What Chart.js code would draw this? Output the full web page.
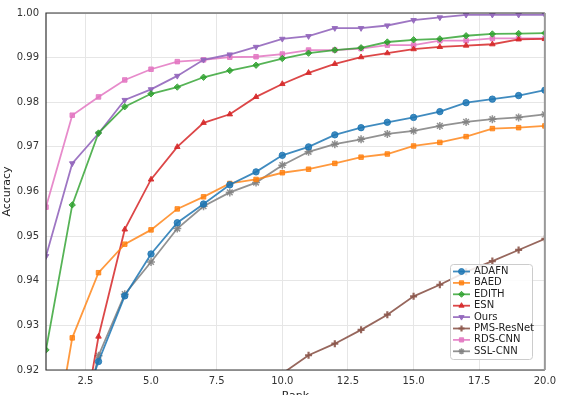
<!DOCTYPE html>
<html>
<head>
<meta charset="utf-8">
<script src="https://cdn.jsdelivr.net/npm/chart.js@4/dist/chart.umd.min.js"></script>
<style>
  html, body { margin: 0; padding: 0; overflow: hidden; background: #fff; }
</style>
</head>
<body>
<canvas id="grafico" width="561" height="410"></canvas>
<script>
// dados
const ranks = [1, 2, 3, 4, 5, 6, 7, 8, 9, 10, 11, 12, 13, 14, 15, 16, 17, 18, 19, 20];
const xTicks = [2.5, 5, 7.5, 10, 12.5, 15, 17.5, 20];

const adafn = [0.875, 0.905, 0.9219, 0.9366, 0.9460, 0.9530, 0.9572, 0.9615, 0.9644, 0.9681, 0.9700, 0.9727, 0.9743, 0.9755, 0.9766, 0.9779, 0.9799, 0.9807, 0.9815, 0.9827];
const baed = [0.893, 0.9272, 0.9418, 0.9482, 0.9514, 0.9561, 0.9588, 0.9618, 0.9627, 0.9642, 0.9650, 0.9663, 0.9677, 0.9684, 0.9702, 0.9710, 0.9723, 0.9741, 0.9743, 0.9747];
const edith = [0.9245, 0.9570, 0.9731, 0.9790, 0.9819, 0.9834, 0.9856, 0.9871, 0.9883, 0.9898, 0.9910, 0.9917, 0.9922, 0.9935, 0.9940, 0.9942, 0.9949, 0.9953, 0.9954, 0.9955];
const esn = [0.870, 0.894, 0.9275, 0.9515, 0.9627, 0.9700, 0.9754, 0.9773, 0.9812, 0.9841, 0.9866, 0.9886, 0.9901, 0.9910, 0.9919, 0.9924, 0.9927, 0.9930, 0.9941, 0.9942];
const ours = [0.9455, 0.9663, 0.9730, 0.9805, 0.9829, 0.9859, 0.9895, 0.9907, 0.9924, 0.9942, 0.9948, 0.9966, 0.9966, 0.9972, 0.9984, 0.9990, 0.9996, 0.9996, 0.9996, 0.9996];
const pmsResnet = [0.880, 0.885, 0.890, 0.895, 0.900, 0.905, 0.909, 0.912, 0.9155, 0.9192, 0.9233, 0.9259, 0.9290, 0.9324, 0.9365, 0.9391, 0.9420, 0.9444, 0.9469, 0.9494];
const rdsCnn = [0.9565, 0.9771, 0.9812, 0.9850, 0.9874, 0.9891, 0.9895, 0.9901, 0.9902, 0.9908, 0.9917, 0.9917, 0.9920, 0.9928, 0.9928, 0.9938, 0.9938, 0.9943, 0.9943, 0.9943];
const sslCnn = [0.880, 0.898, 0.9232, 0.9370, 0.9442, 0.9517, 0.9567, 0.9598, 0.9620, 0.9659, 0.9689, 0.9706, 0.9717, 0.9729, 0.9736, 0.9747, 0.9756, 0.9762, 0.9766, 0.9773];

const SERIES = [
    { label: "ADAFN", data: adafn, cor: "rgba(31,119,180,0.85)", estilo: "circle", rot: 0 },
    { label: "BAED", data: baed, cor: "rgba(255,127,14,0.8)", estilo: "rect", rot: 0 },
    { label: "EDITH", data: edith, cor: "rgba(44,160,44,0.8)", estilo: "rectRot", rot: 0 },
    { label: "ESN", data: esn, cor: "rgba(214,39,40,0.85)", estilo: "triangle", rot: 0 },
    { label: "Ours", data: ours, cor: "rgba(148,103,189,0.9)", estilo: "triangle", rot: 180 },
    { label: "PMS-ResNet", data: pmsResnet, cor: "rgba(140,86,75,0.9)", estilo: "cross", rot: 0 },
    { label: "RDS-CNN", data: rdsCnn, cor: "rgba(227,119,194,0.85)", estilo: "rect", rot: 0 },
    { label: "SSL-CNN", data: sslCnn, cor: "rgba(127,127,127,0.85)", estilo: "star", rot: 0 },
];

const moldura = {
    id: "moldura",
    afterDatasetsDraw(chart) {
        const a = chart.chartArea, ctx = chart.ctx;
        ctx.save();
        ctx.strokeStyle = "#333";
        ctx.lineWidth = 1.2;
        ctx.beginPath();
        ctx.moveTo(a.right, a.top); ctx.lineTo(a.left, a.top);
        ctx.lineTo(a.left, a.bottom); ctx.lineTo(a.right, a.bottom);
        ctx.stroke();
        ctx.strokeStyle = "#999";
        ctx.lineWidth = 2;
        ctx.beginPath();
        ctx.moveTo(a.right, a.top); ctx.lineTo(a.right, a.bottom);
        ctx.stroke();
        ctx.restore();
    }
};

const legenda = {
    id: "legenda",
    afterDraw(chart) {
        const ctx = chart.ctx;
        const x0 = 450, y0 = 264, w = 82, h = 95;
        ctx.save();
        ctx.fillStyle = "rgba(255,255,255,0.85)";
        ctx.strokeStyle = "#cccccc";
        ctx.lineWidth = 1;
        ctx.beginPath();
        ctx.roundRect(x0 + 0.5, y0 + 0.5, w, h, 3);
        ctx.fill();
        ctx.stroke();
        ctx.font = "10px 'DejaVu Sans'";
        ctx.textBaseline = "middle";
        chart.data.datasets.forEach((ds, i) => {
            const y = y0 + 7.5 + i * 11.4;
            ctx.strokeStyle = ds.borderColor;
            ctx.fillStyle = ds.borderColor;
            ctx.lineWidth = 1.8;
            ctx.beginPath();
            ctx.moveTo(x0 + 3, y); ctx.lineTo(x0 + 20, y);
            ctx.stroke();
            if (Chart.helpers && Chart.helpers.drawPoint) {
                ctx.lineWidth = ds.pointBorderWidth;
                Chart.helpers.drawPoint(ctx, { pointStyle: ds.pointStyle, radius: 3, rotation: ds.pointRotation, borderWidth: ds.pointBorderWidth }, x0 + 11.5, y);
            }
            ctx.fillStyle = "#222";
            ctx.fillText(ds.label, x0 + 24, y);
        });
        ctx.restore();
    }
};

const grafico = new Chart(document.getElementById("grafico"), {
    type: "line",
    data: {
        labels: ranks,
        datasets: SERIES.map((s) => ({
            label: s.label,
            data: s.data.map((v, i) => ({ x: ranks[i], y: v })),
            borderColor: s.cor,
            backgroundColor: s.cor,
            borderWidth: 1.8,
            pointStyle: s.estilo,
            pointRotation: s.rot,
            pointRadius: s.estilo === "star" ? 4 : (s.estilo === "cross" ? 3.5 : 3.2),
            pointBorderWidth: s.estilo === "cross" ? 2.2 : (s.estilo === "star" ? 1.5 : 1),
            tension: 0,
        }))
    },
    options: {
        responsive: false,
        devicePixelRatio: 1,
        animation: false,
        layout: { padding: { top: 13, right: 16, left: 0, bottom: 0 } },
        plugins: { legend: { display: false }, tooltip: { enabled: false } },
        scales: {
            x: {
                type: "linear",
                min: 1,
                max: 20,
                afterBuildTicks: (s) => { s.ticks = xTicks.map((v) => ({ value: v })); },
                afterFit: (s) => { s.height = 40; },
                ticks: {
                    callback: (v) => Number(v).toFixed(1),
                    font: { family: "DejaVu Sans", size: 10 },
                    color: "#333",
                    padding: 5,
                    maxRotation: 0,
                },
                grid: { color: "#e6e6e6", drawTicks: false },
                border: { display: false },
                title: { display: true, text: "Rank", font: { family: "DejaVu Sans", size: 11 }, color: "#222", padding: { top: 2, bottom: 7 } },
            },
            y: {
                min: 0.92,
                max: 1.0,
                afterFit: (s) => { s.width = 46; },
                ticks: {
                    stepSize: 0.01,
                    callback: (v) => Number(v).toFixed(2),
                    font: { family: "DejaVu Sans", size: 10 },
                    color: "#333",
                    padding: 7,
                },
                grid: { color: "#e6e6e6", drawTicks: false },
                border: { display: false },
                title: { display: true, text: "Accuracy", font: { family: "DejaVu Sans", size: 11 }, color: "#222", padding: 1 },
            }
        }
    },
    plugins: [moldura, legenda]
});
</script>
</body>
</html>
